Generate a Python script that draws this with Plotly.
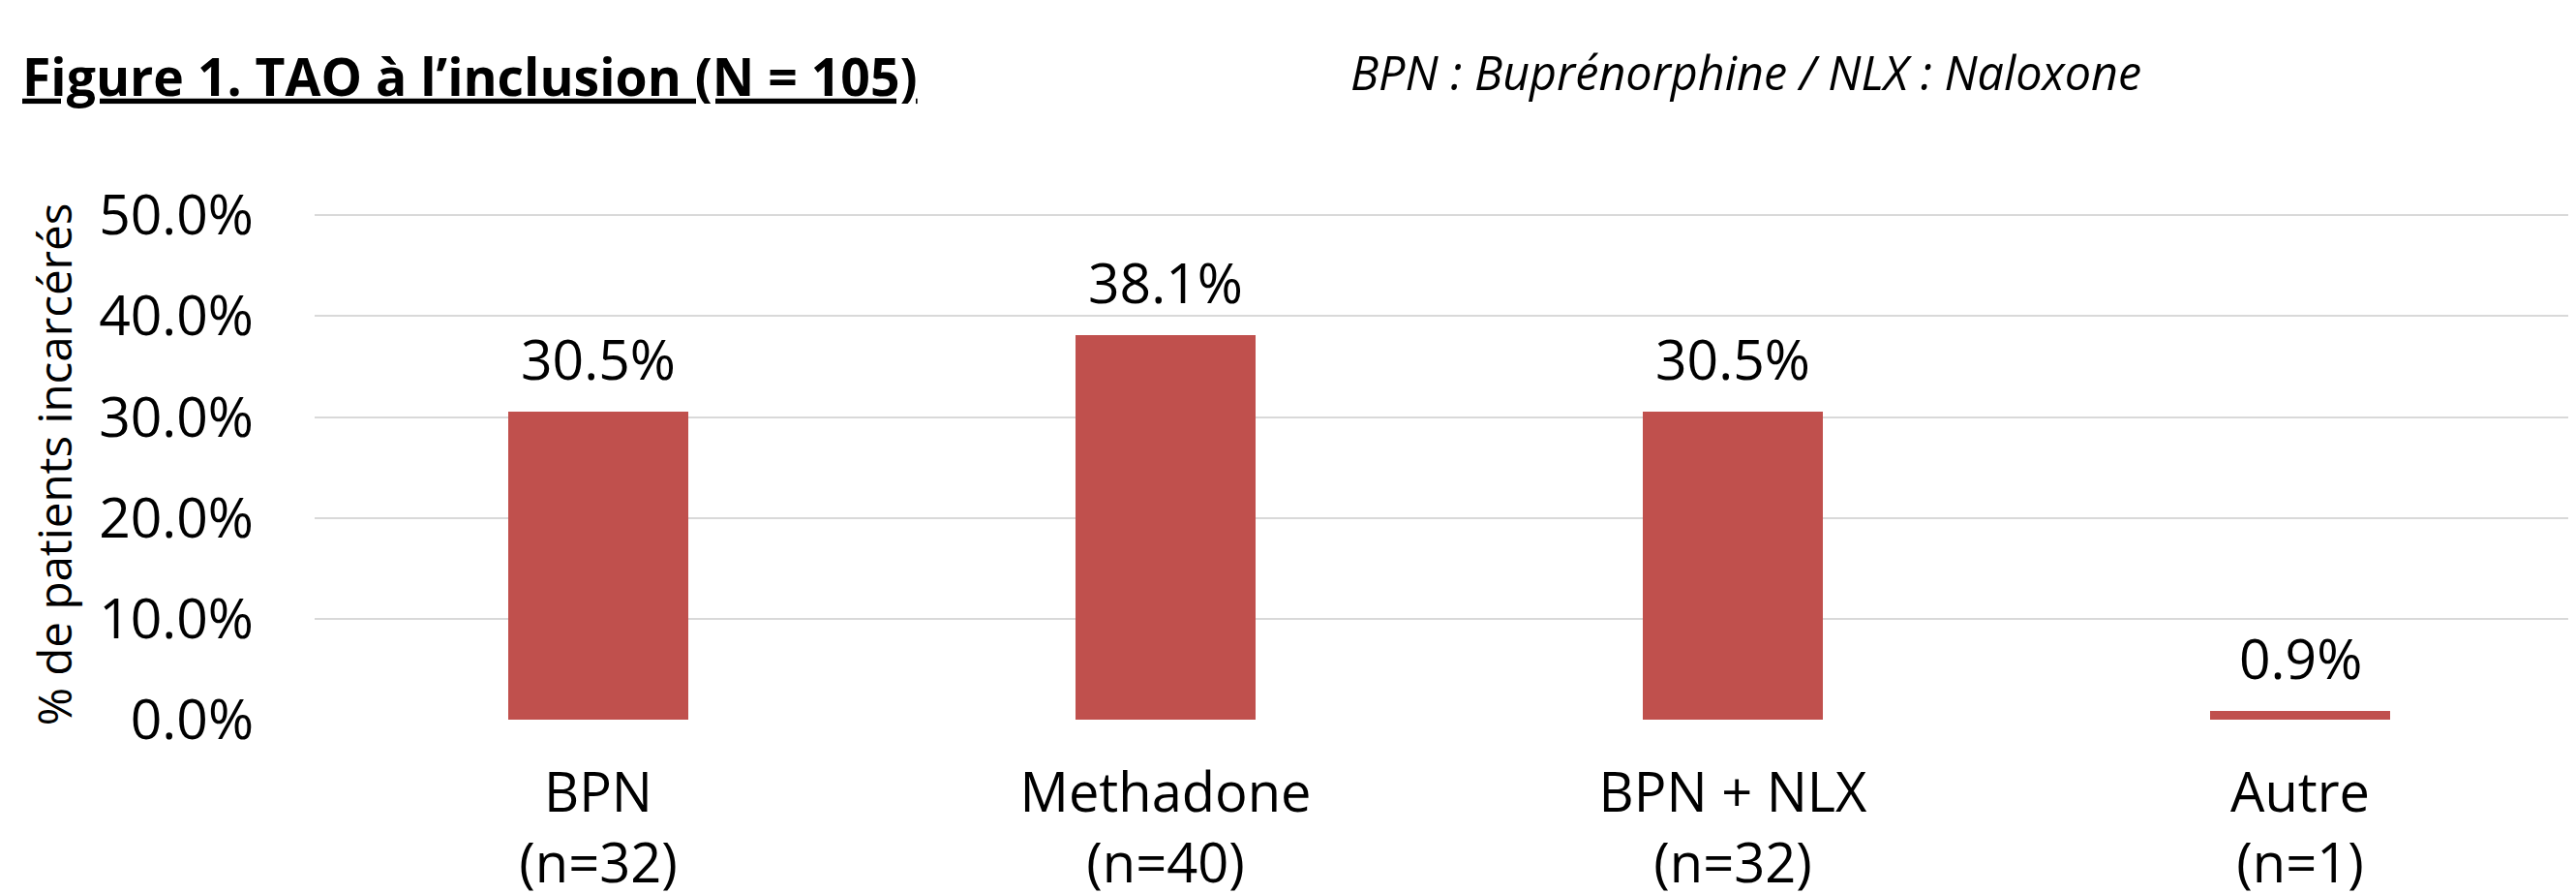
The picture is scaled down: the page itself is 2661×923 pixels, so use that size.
import plotly.graph_objects as go

categories = ["BPN", "Methadone", "BPN + NLX", "Autre"]
counts = ["(n=32)", "(n=40)", "(n=32)", "(n=1)"]
values = [30.5, 38.1, 30.5, 0.9]
y_ticks = [0, 10, 20, 30, 40, 50]
y_ticklabels = ["0.0%", "10.0%", "20.0%", "30.0%", "40.0%", "50.0%"]

FONT = "Open Sans"
BAR_COLOR = "#C0504D"

x_pos = list(range(len(categories)))
tick_text = [f"{c}<br>{n}" for c, n in zip(categories, counts)]

W, H = 2661, 923
Y0, Y50 = 735, 214          # pixel rows of the 0% and 50% grid lines
YMAX = 50.6
px_per_unit = (Y0 - Y50) / 50
L, R, B = 317, 0, H - Y0
T = int(round(Y50 - (YMAX - 50) * px_per_unit))

fig = go.Figure()
fig.add_trace(go.Bar(
    x=x_pos, y=values, width=0.316,
    marker=dict(color=BAR_COLOR, line=dict(width=0)),
    hoverinfo="skip",
))

for xi, v in zip(x_pos, values):
    fig.add_annotation(
        x=xi, y=v, xref="x", yref="y", text=f"{v:.1f}%",
        showarrow=False, yanchor="bottom", yshift=14,
        font=dict(family=FONT, size=57, color="black"),
    )

fig.add_annotation(
    x=(1385 - L) / (W - L - R), y=(H - 66 - B) / (H - T - B),
    xref="paper", yref="paper",
    text="<i>BPN : Buprénorphine / NLX : Naloxone</i>",
    showarrow=False, xanchor="left", yanchor="middle",
    font=dict(family=FONT, size=48.5, color="black"),
)

fig.update_layout(
    width=W, height=H,
    margin=dict(l=L, r=R, t=T, b=B, autoexpand=False),
    paper_bgcolor="white", plot_bgcolor="white",
    showlegend=False,
    bargap=0,
    title=dict(
        text="<b><u>Figure 1. TAO à l’inclusion (N = 105)</u></b>",
        x=15 / W, xanchor="left", xref="container",
        y=1 - 72 / H, yanchor="middle", yref="container",
        font=dict(family=FONT, size=53.5, color="black"),
    ),
    xaxis=dict(
        range=[-0.5, 3.5],
        tickmode="array", tickvals=x_pos, ticktext=tick_text,
        tickfont=dict(family=FONT, size=56, color="black"),
        showgrid=False, zeroline=False, showline=False,
        ticks="", ticklabelstandoff=38, automargin=False,
    ),
    yaxis=dict(
        range=[0, YMAX],
        tickmode="array", tickvals=y_ticks, ticktext=y_ticklabels,
        tickfont=dict(family=FONT, size=57, color="black"),
        showgrid=True, gridcolor="#D9D9D9", gridwidth=2,
        zeroline=False, showline=False, ticks="",
        ticklabelstandoff=62, automargin=False,
        title=dict(text="% de patients incarcérés",
                   font=dict(family=FONT, size=47.5, color="black"),
                   standoff=12),
    ),
    font=dict(family=FONT, color="black"),
)

fig.write_html("out.html")
